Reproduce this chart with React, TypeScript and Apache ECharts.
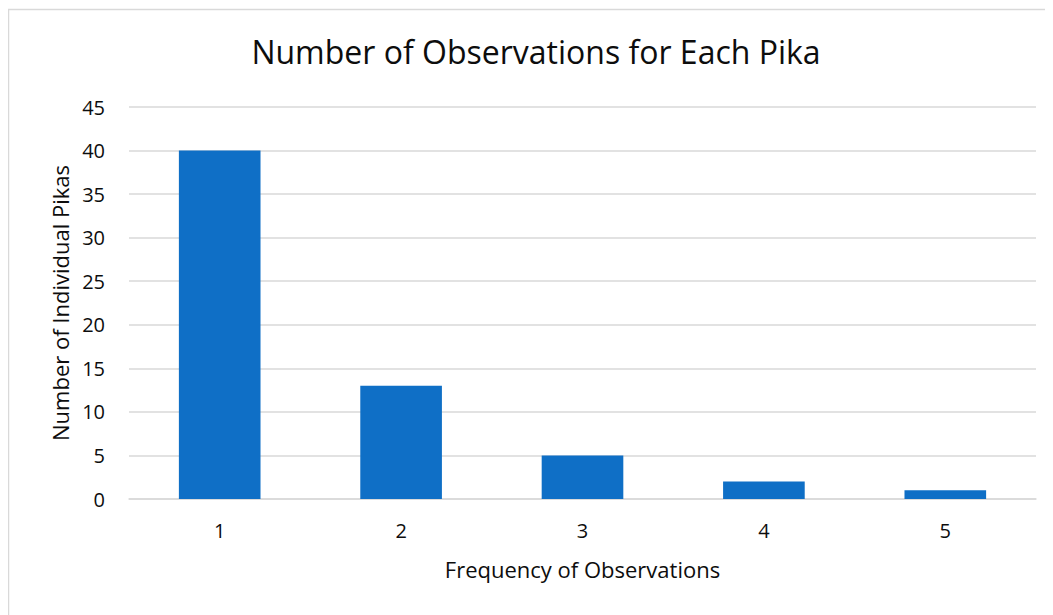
import React, { useEffect, useRef } from "react";
import * as echarts from "echarts";

const categories = ["1", "2", "3", "4", "5"];
const counts = [40, 13, 5, 2, 1];
const titleText = "Number of Observations for Each Pika";
const xName = "Frequency of Observations";
const yName = "Number of Individual Pikas";

export default function App() {
  const ref = useRef<HTMLDivElement>(null);
  useEffect(() => {
    if (!ref.current) return;
    const chart = echarts.init(ref.current, undefined, { renderer: "svg" });
    const font = "'Open Sans', 'Noto Sans', sans-serif";
    const ink = "#0d0d0d";
    chart.setOption({
      animation: false,
      backgroundColor: "#ffffff",
      textStyle: { fontFamily: font },
      graphic: [
        {
          type: "rect",
          shape: { x: 0.5, y: 1.5, width: 2000, height: 2000 },
          style: { fill: "none", stroke: "#d9d9d9", lineWidth: 1.5 },
          silent: true,
        },
      ],
      title: {
        text: titleText,
        left: 523,
        top: 22,
        textAlign: "center",
        textStyle: { fontFamily: font, fontSize: 32, fontWeight: "normal", color: ink },
      },
      grid: { left: 121, right: 17, top: 99, bottom: 116, containLabel: false },
      xAxis: {
        type: "category",
        data: categories,
        name: xName,
        nameLocation: "middle",
        nameGap: 59,
        nameTextStyle: { fontFamily: font, fontSize: 22, color: ink },
        axisLine: { show: true, lineStyle: { color: "#d9d9d9", width: 1.5 } },
        axisTick: { show: false },
        axisLabel: { margin: 21, fontFamily: font, fontSize: 20, color: ink },
      },
      yAxis: {
        type: "value",
        min: 0,
        max: 45,
        interval: 5,
        name: yName,
        nameLocation: "middle",
        nameGap: 54,
        nameRotate: 90,
        nameTextStyle: { fontFamily: font, fontSize: 22, color: ink },
        axisLine: { show: false },
        axisTick: { show: false },
        axisLabel: { margin: 24, fontFamily: font, fontSize: 20, color: ink },
        splitLine: { lineStyle: { color: "#d9d9d9", width: 1.5 } },
      },
      series: [
        {
          type: "bar",
          data: counts,
          barWidth: "45%",
          itemStyle: { color: "#0f6fc6" },
        },
      ],
    });
    return () => chart.dispose();
  }, []);
  return (
    <div style={{ width: 1045, height: 607, overflow: "hidden", position: "relative" }}>
      <div ref={ref} style={{ width: 1045, height: 607 }} />
    </div>
  );
}
